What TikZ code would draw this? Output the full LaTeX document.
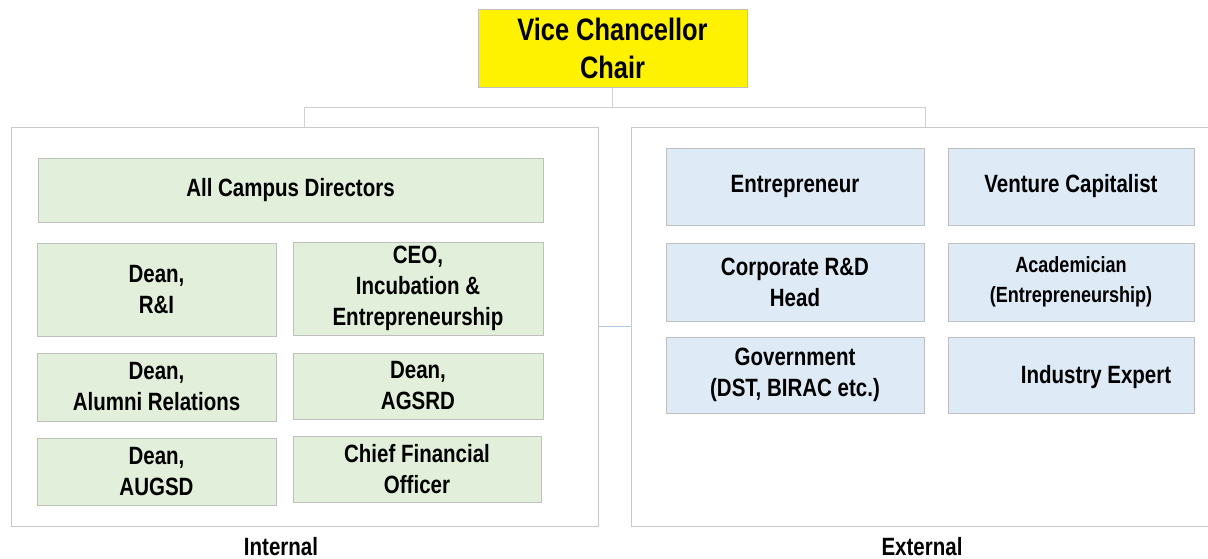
\documentclass[tikz,border=0pt]{standalone}
\usepackage{fontspec}
\setmainfont{Liberation Sans}[FakeStretch=0.82]
\definecolor{gfill}{HTML}{E2EFDA}
\definecolor{bfill}{HTML}{DEEBF7}
\definecolor{bord}{HTML}{BFBFBF}
\definecolor{outer}{HTML}{C8C8C8}
\definecolor{connc}{HTML}{D0D0D0}
\definecolor{bluec}{HTML}{B4C7E7}
\tikzset{
  box/.style={draw=bord, line width=1pt, inner sep=0pt, align=center,
    font=\fontsize{25}{31}\selectfont\bfseries},
  gbox/.style={box, fill=gfill},
  ebox/.style={box, fill=bfill},
  outerbox/.style={draw=outer, line width=1pt, fill=white, inner sep=0pt},
  conn/.style={draw=connc, line width=1pt},
  blueconn/.style={draw=bluec, line width=1pt},
  lbl/.style={font=\fontsize{25}{30}\selectfont\bfseries, inner sep=0pt}
}
\begin{document}
\begin{tikzpicture}[x=1pt,y=-1pt]
\useasboundingbox (0,0) rectangle (1208,558);
% top
\node[box, fill=yellow, minimum width=269pt, minimum height=78pt,
  font=\fontsize{31}{38}\selectfont\bfseries] (vc) at (612.5,48) {Vice Chancellor\\Chair};
% outer boxes
\node[outerbox, minimum width=587pt, minimum height=399pt] (int) at (304.5,326.5) {};
\node[outerbox, minimum width=588pt, minimum height=399pt] (ext) at (925,326.5) {};
\coordinate (j) at (612.5,107);
\draw[conn] (vc.south) -- (j);
\draw[conn] (j) -| (int.north);
\draw[conn] (j) -| (ext.north);
\draw[blueconn] (int.east) -- (ext.west);
% internal
\node[gbox, minimum width=505pt, minimum height=64pt] (acd) at (290.5,190) {All Campus Directors};
\node[gbox, minimum width=239pt, minimum height=93pt] (dri) at (156.5,289.5) {Dean,\\R\&I};
\node[gbox, minimum width=250pt, minimum height=93pt] (ceo) at (418,288.5) {CEO,\\Incubation \&\\Entrepreneurship};
\node[gbox, minimum width=239pt, minimum height=68pt] (dar) at (156.5,387) {Dean,\\Alumni Relations};
\node[gbox, minimum width=250pt, minimum height=66pt] (dag) at (418,386) {Dean,\\AGSRD};
\node[gbox, minimum width=239pt, minimum height=67pt] (dau) at (156.5,471.5) {Dean,\\AUGSD};
\node[gbox, minimum width=248pt, minimum height=66pt] (cfo) at (417,469) {Chief Financial\\Officer};
% external
\node[ebox, minimum width=258pt, minimum height=77pt] (ent) at (795,186.5) {Entrepreneur};
\node[ebox, minimum width=246pt, minimum height=77pt] (vcap) at (1071,186.5) {Venture Capitalist};
\node[ebox, minimum width=258pt, minimum height=78pt] (crd) at (795,282) {Corporate R\&D\\Head};
\node[ebox, minimum width=246pt, minimum height=78pt, font=\fontsize{22}{30}\selectfont\bfseries] (aca) at (1071,282) {Academician\\(Entrepreneurship)};
\node[ebox, minimum width=258pt, minimum height=76pt] (gov) at (795,375) {Government\\(DST, BIRAC etc.)};
\node[ebox, minimum width=246pt, minimum height=76pt] (ie) at (1071,375) {};
\node[lbl] (iet) at (1096,377) {Industry Expert};
% labels
\node[lbl, anchor=base] (intl) at (281,555) {Internal};
\node[lbl, anchor=base] (extl) at (922,555) {External};
\end{tikzpicture}
\end{document}
